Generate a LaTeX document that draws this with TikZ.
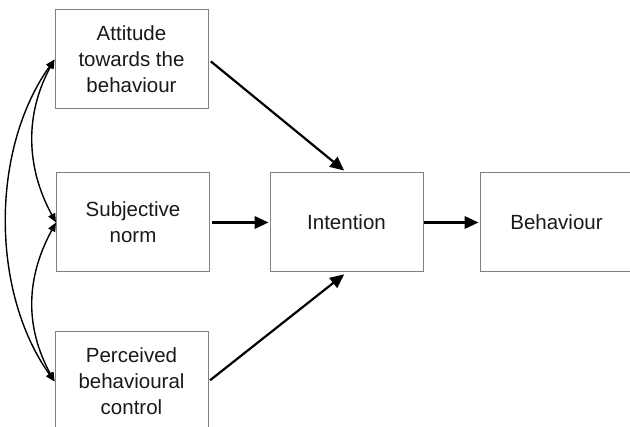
\documentclass[tikz,border=0pt]{standalone}
\usepackage{fontspec}
\setmainfont{Liberation Sans}
\usetikzlibrary{arrows.meta}
\begin{document}
\begin{tikzpicture}[x=1pt,y=1pt,
  box/.style={draw=black!50, line width=1pt, minimum width=153pt, minimum height=99pt,
    align=center, inner sep=0pt, font=\fontsize{20.5}{26}\selectfont, text=black!90},
  mainarrow/.style={line width=2.2pt, -{Triangle[length=14pt,width=12.5pt]}},
  corrarrow/.style={line width=1.4pt, {Triangle[length=9pt,width=7.5pt]}-{Triangle[length=9pt,width=7.5pt]}}]
\useasboundingbox (0,0) rectangle (630,427);
\node[box] (att) at (131.5,367.5) {Attitude\\towards the\\behaviour};
\node[box] (sn) at (133,204.5) {Subjective\\norm};
\node[box] (pbc) at (131.5,45.5) {Perceived\\behavioural\\control};
\node[box] (int) at (346.5,204.5) {Intention};
\node[box] (beh) at (556.5,204.5) {Behaviour};
\draw[mainarrow, shorten <=3pt, shorten >=3pt] (att.east) -- (int.north);
\draw[mainarrow, shorten <=2pt, shorten >=1pt] (sn.east) -- (int.west);
\draw[mainarrow, shorten <=2pt, shorten >=3pt] (pbc.east) -- (int.south);
\draw[mainarrow, shorten >=1pt] (int.east) -- (beh.west);
\draw[corrarrow] (att.west) .. controls +(-30,-55) and +(-30,55) .. (sn.west);
\draw[corrarrow] (sn.west) .. controls +(-30,-55) and +(-30,55) .. (pbc.west);
\draw[corrarrow] (att.west) .. controls +(-64,-90) and +(-64,90) .. (pbc.west);
\end{tikzpicture}
\end{document}
